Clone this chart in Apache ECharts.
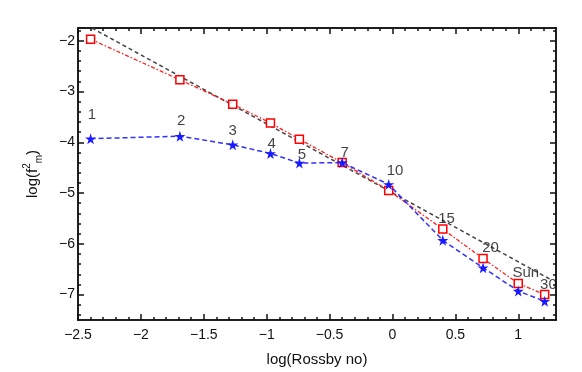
<!DOCTYPE html>
<html>
<head>
<meta charset="utf-8">
<script src="https://cdn.jsdelivr.net/npm/echarts@6/dist/echarts.min.js"></script>
<style>
  html, body { margin: 0; padding: 0; background: #fff; }
  #chart { width: 582px; height: 372px; }
</style>
</head>
<body>
<div id="chart"></div>
<script>
// data
const logRo = [-2.40, -1.69, -1.27, -0.97, -0.74, -0.40, -0.03, 0.40, 0.72, 1.00, 1.21]
const starY = [-3.93, -3.88, -4.05, -4.22, -4.41, -4.40, -4.83, -5.93, -6.47, -6.93, -7.13]
const squareY = [-1.97, -2.77, -3.25, -3.62, -3.94, -4.40, -4.95, -5.71, -6.29, -6.78, -7.00]
const fitX = [-2.39, 1.27]
const fitY = [-1.75, -6.72]

const pointNames = ['1', '2', '3', '4', '5', '7', '10', '15', '20', 'Sun', '30']
const nameX = [-2.39, -1.68, -1.27, -0.96, -0.72, -0.38, 0.02, 0.43, 0.78, 1.06, 1.24]
const nameY = [-3.47, -3.57, -3.77, -4.03, -4.24, -4.20, -4.56, -5.51, -6.07, -6.58, -6.80]

const xMajor = [-2.5, -2, -1.5, -1, -0.5, 0, 0.5, 1]
const xMinor = [-2.4, -2.3, -2.2, -2.1, -1.9, -1.8, -1.7, -1.6, -1.4, -1.3, -1.2, -1.1,
  -0.9, -0.8, -0.7, -0.6, -0.4, -0.3, -0.2, -0.1, 0.1, 0.2, 0.3, 0.4, 0.6, 0.7, 0.8, 0.9, 1.1, 1.2]
const yMajor = [-7, -6, -5, -4, -3, -2]
const yMinor = [-7.4, -7.2, -6.8, -6.6, -6.4, -6.2, -5.8, -5.6, -5.4, -5.2, -4.8, -4.6, -4.4, -4.2,
  -3.8, -3.6, -3.4, -3.2, -2.8, -2.6, -2.4, -2.2, -1.8]

const font = 'Liberation Sans'
const minus = (v) => String(v).replace('-', '\u2212')

const zip = (xs, ys) => xs.map((x, i) => [x, ys[i]])

const edge = { show: true, onZero: false, lineStyle: { color: '#111', width: 1.5 } }

const makeX = (position, ticks, len, withLabel) => ({
  type: 'value',
  position,
  min: -2.5,
  max: 1.3,
  axisLine: edge,
  axisTick: { show: true, inside: true, length: len, customValues: ticks, lineStyle: { color: '#111', width: 1.5 } },
  axisLabel: withLabel
    ? { show: true, customValues: xMajor, formatter: minus, fontFamily: font, fontSize: 14, color: '#111', margin: 8 }
    : { show: false },
  splitLine: { show: false }
})

const makeY = (position, ticks, len, withLabel) => ({
  type: 'value',
  position,
  min: -7.5,
  max: -1.75,
  axisLine: edge,
  axisTick: { show: true, inside: true, length: len, customValues: ticks, lineStyle: { color: '#111', width: 1.5 } },
  axisLabel: withLabel
    ? { show: true, customValues: yMajor, formatter: minus, fontFamily: font, fontSize: 14, color: '#111', margin: 3 }
    : { show: false },
  splitLine: { show: false }
})

const chart = echarts.init(document.getElementById('chart'))

const xMain = makeX('bottom', xMajor, 6, true)
xMain.name = 'log(Rossby no)'
xMain.nameLocation = 'middle'
xMain.nameGap = 32
xMain.nameTextStyle = { fontFamily: font, fontSize: 15, color: '#111' }

const yMain = makeY('left', yMajor, 6, true)
yMain.name = '{t|log(f}{s|2}{b|m}{t|)}'
yMain.nameLocation = 'middle'
yMain.nameGap = 34
yMain.nameTextStyle = {
  fontFamily: font,
  color: '#111',
  rich: {
    t: { fontFamily: font, fontSize: 15, color: '#111', lineHeight: 22, verticalAlign: 'middle' },
    s: { fontFamily: font, fontSize: 10, color: '#111', verticalAlign: 'top' },
    b: { fontFamily: font, fontSize: 10, color: '#111', verticalAlign: 'bottom' }
  }
}

const option = {
  animation: false,
  backgroundColor: '#fff',
  grid: { left: 78, right: 26, top: 28, bottom: 46, containLabel: false },
  xAxis: [
    xMain,
    makeX('bottom', xMinor, 3, false),
    makeX('top', xMajor, 6, false),
    makeX('top', xMinor, 3, false)
  ],
  yAxis: [
    yMain,
    makeY('left', yMinor, 3, false),
    makeY('right', yMajor, 6, false),
    makeY('right', yMinor, 3, false)
  ],
  series: [
    {
      name: 'fit',
      type: 'line',
      data: zip(fitX, fitY),
      symbol: 'none',
      lineStyle: { color: '#444', width: 1.5, type: [4, 3] },
      z: 2
    },
    {
      name: 'squares',
      type: 'line',
      data: zip(logRo, squareY),
      symbol: 'rect',
      symbolSize: 8,
      itemStyle: { color: '#fff', borderColor: '#ff0000', borderWidth: 1.5 },
      lineStyle: { color: '#ff2020', width: 1.3, type: [4, 2, 1.5, 2] },
      z: 3
    },
    {
      name: 'stars',
      type: 'line',
      data: zip(logRo, starY),
      symbol: 'path://M50,0 L61,35 L98,35 L68,57 L79,91 L50,70 L21,91 L32,57 L2,35 L39,35 Z',
      symbolSize: 11,
      itemStyle: { color: '#1a1aff' },
      lineStyle: { color: '#3030ff', width: 1.5, type: [5, 3] },
      z: 4
    },
    {
      name: 'names',
      type: 'scatter',
      data: zip(nameX, nameY).map((p, i) => ({ value: p, name: pointNames[i] })),
      symbolSize: 0,
      silent: true,
      label: {
        show: true,
        position: 'inside',
        formatter: (p) => p.name,
        fontFamily: font,
        fontSize: 15,
        color: '#111'
      },
      z: 5
    }
  ]
}

chart.setOption(option)
</script>
</body>
</html>
